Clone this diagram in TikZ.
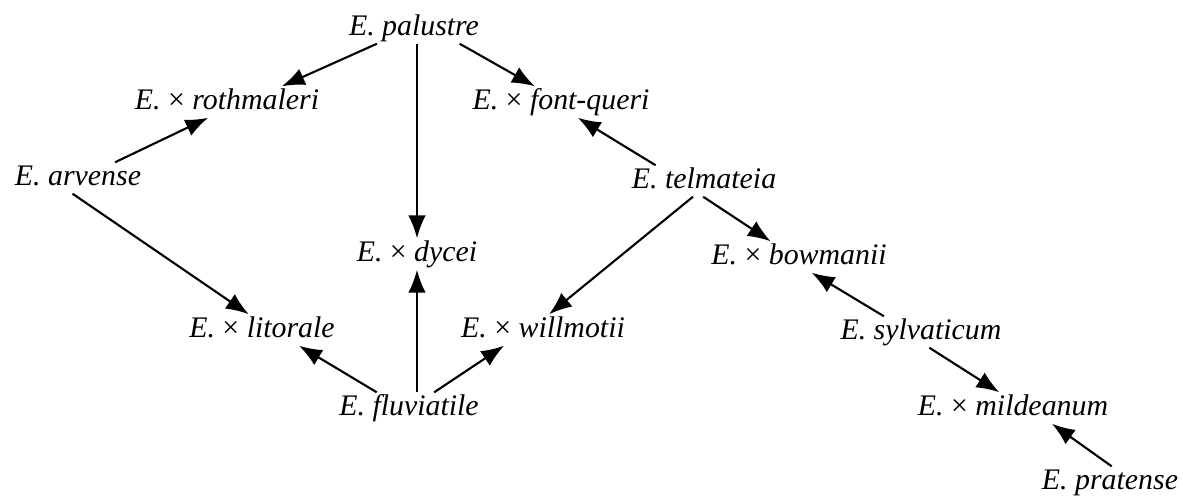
\documentclass[tikz,border=0pt]{standalone}
\usepackage{fontspec}
\setmainfont{Liberation Serif}
\usetikzlibrary{arrows.meta}

\newcommand{\hx}{{\upshape ×}}

\begin{document}
\begin{tikzpicture}[x=0.02cm, y=-0.02cm,
        taxon/.style={inner sep=1pt, text height=12pt, text depth=3.5pt, font=\fontsize{17}{20}\selectfont\itshape},
        hyb/.style={-{Latex[length=13pt,width=10pt]}, line width=1.2pt}]
        \useasboundingbox (0,0) rectangle (1183,495);

        \node (palustre)   at (414,28)   [taxon] {E. palustre};
        \node (rothmaleri) at (227,102)  [taxon] {E. \hx{} rothmaleri};
        \node (fontqueri)  at (561,102)  [taxon] {E. \hx{} font-queri};
        \node (arvense)    at (78,178)   [taxon] {E. arvense};
        \node (telmateia)  at (704,181)  [taxon] {E. telmateia};
        \node (dycei)      at (417,254)  [taxon] {E. \hx{} dycei};
        \node (bowmanii)   at (799,257)  [taxon] {E. \hx{} bowmanii};
        \node (litorale)   at (262,330)  [taxon] {E. \hx{} litorale};
        \node (willmotii)  at (543,330)  [taxon] {E. \hx{} willmotii};
        \node (sylvaticum) at (921,332)  [taxon] {E. sylvaticum};
        \node (fluviatile) at (409,408)  [taxon] {E. fluviatile};
        \node (mildeanum)  at (1013,408) [taxon] {E. \hx{} mildeanum};
        \node (pratense)   at (1110,482) [taxon] {E. pratense};

        \draw[hyb] (palustre.203)   to (rothmaleri.16);
        \draw[hyb] (palustre.341)   to (fontqueri.149);
        \draw[hyb] (dycei |- palustre.south) to (dycei.north);
        \draw[hyb] (arvense.23)     to (rothmaleri.220);
        \draw[hyb] (arvense.251)    to (litorale.130);
        \draw[hyb] (telmateia.162)  to (fontqueri.317);
        \draw[hyb] (telmateia.267)  to (bowmanii.151);
        \draw[hyb] (telmateia.235)  to (willmotii.69);
        \draw[hyb] (dycei |- fluviatile.north) to (dycei.south);
        \draw[hyb] (fluviatile.154) to (litorale.337);
        \draw[hyb] (fluviatile.32)  to (willmotii.202);
        \draw[hyb] (sylvaticum.157) to (bowmanii.309);
        \draw[hyb] (sylvaticum.298) to (mildeanum.131);
        \draw[hyb] (pratense.84)    to (mildeanum.338);
\end{tikzpicture}
\end{document}
